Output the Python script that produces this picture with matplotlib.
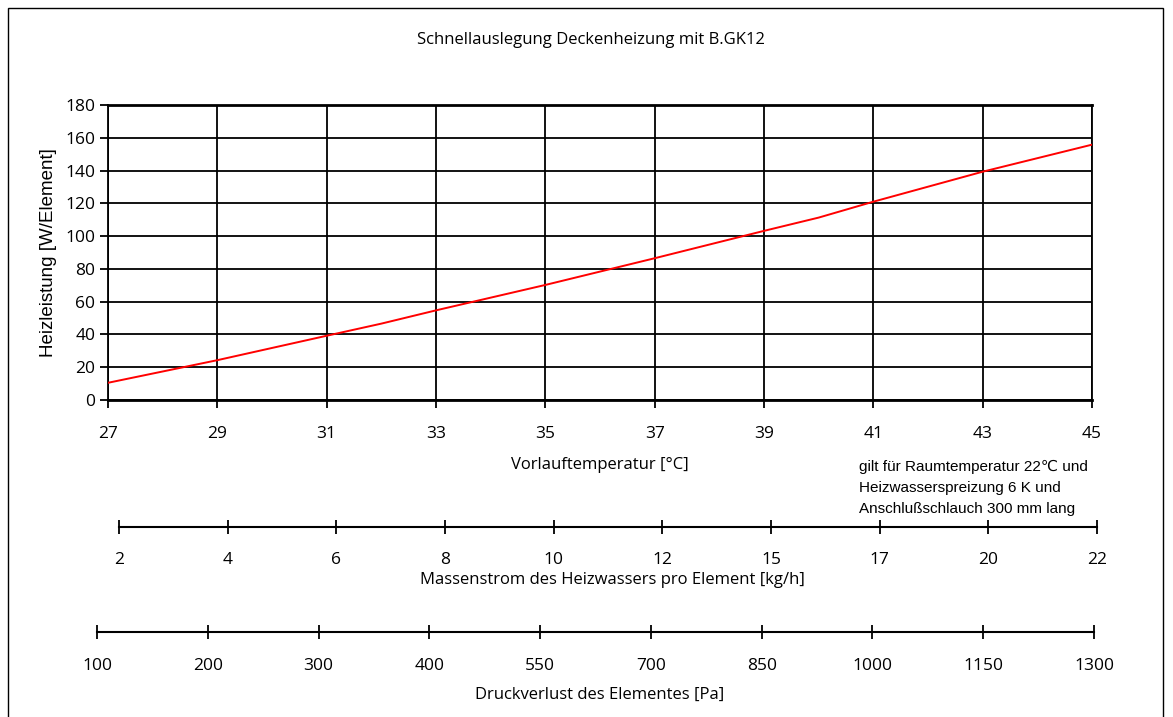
import matplotlib
matplotlib.use('Agg')
import matplotlib.pyplot as plt
from matplotlib.patches import Rectangle

# Heizleistung über Vorlauftemperatur
vorlauf = [27, 29, 31, 32, 33, 35, 37, 39, 40, 41, 43, 45]
leistung = [10.5, 24.3, 39.2, 46.6, 54.7, 70.2, 86.5, 103.2, 111.3, 121.0, 139.3, 155.8]

x_ticks = [27, 29, 31, 33, 35, 37, 39, 41, 43, 45]
y_ticks = [0, 20, 40, 60, 80, 100, 120, 140, 160, 180]

massenstrom_labels = ['2', '4', '6', '8', '10', '12', '15', '17', '20', '22']
druck_labels = ['100', '200', '300', '400', '550', '700', '850', '1000', '1150', '1300']

W, H = 1173, 717
num_font = 'Open Sans'
arial = ['Liberation Sans', 'DejaVu Sans']
tick_size = 12.5

fig = plt.figure(figsize=(W / 100, H / 100), dpi=100)

# Rahmen um das ganze Diagramm
fig.patches.append(Rectangle((8 / W, -0.05), 1155 / W, 1.05 - 8 / H,
                             transform=fig.transFigure, fill=False,
                             edgecolor='black', linewidth=1.0))

def fx(px):
    return px / W

def fy(py):
    return 1 - py / H

# Hauptdiagramm
ax = fig.add_axes([fx(108), fy(400), fx(1092) - fx(108), fy(105) - fy(400)])
ax.plot(vorlauf, leistung, color='red', linewidth=1.4, zorder=3)
ax.set_xlim(27, 45)
ax.set_ylim(0, 180)
ax.set_xticks(x_ticks)
ax.set_yticks(y_ticks)
ax.grid(True, color='black', linewidth=1.3)
for s in ax.spines.values():
    s.set_linewidth(1.3)
ax.spines['top'].set_linewidth(2.0)
ax.spines['bottom'].set_linewidth(2.0)
ax.tick_params(axis='both', direction='out', length=6, width=1.3,
               labelsize=tick_size)
ax.tick_params(axis='x', pad=13)
ax.tick_params(axis='y', pad=3)
for lbl in ax.get_xticklabels() + ax.get_yticklabels():
    lbl.set_fontfamily(num_font)
ax.set_ylabel('Heizleistung [W/Element]', fontsize=13.5, family=arial,
              labelpad=6)

fig.text(fx(591), fy(40), 'Schnellauslegung Deckenheizung mit B.GK12',
         ha='center', va='center', fontsize=12, family=num_font)
fig.text(fx(600), fy(465), 'Vorlauftemperatur [°C]',
         ha='center', va='center', fontsize=12, family=num_font)

fig.text(fx(859), fy(488),
         'gilt für Raumtemperatur 22\u2103 und\nHeizwasserspreizung 6 K und\nAnschlußschlauch 300 mm lang',
         ha='left', va='center', fontsize=11, family=arial, linespacing=1.6)

# Zusätzliche Skalen unter dem Diagramm
def scale_axis(left, right, y, labels, pad):
    sa = fig.add_axes([fx(left), fy(y), fx(right) - fx(left), 0.0001])
    sa.set_xlim(0, len(labels) - 1)
    sa.set_ylim(0, 1)
    sa.set_yticks([])
    sa.set_xticks(range(len(labels)))
    sa.set_xticklabels(labels, fontfamily=num_font)
    for side in ['top', 'left', 'right']:
        sa.spines[side].set_visible(False)
    sa.spines['bottom'].set_linewidth(1.5)
    sa.tick_params(axis='x', direction='inout', length=10, width=1.3,
                   labelsize=tick_size, pad=pad)
    sa.patch.set_visible(False)
    return sa

scale_axis(119, 1097, 527, massenstrom_labels, 13)
fig.text(fx(612), fy(580), 'Massenstrom des Heizwassers pro Element [kg/h]',
         ha='center', va='center', fontsize=12, family=num_font)

scale_axis(97, 1094, 631.5, druck_labels, 14)
fig.text(fx(600), fy(695), 'Druckverlust des Elementes [Pa]',
         ha='center', va='center', fontsize=12, family=num_font)

fig.savefig('out.png', dpi=100)
